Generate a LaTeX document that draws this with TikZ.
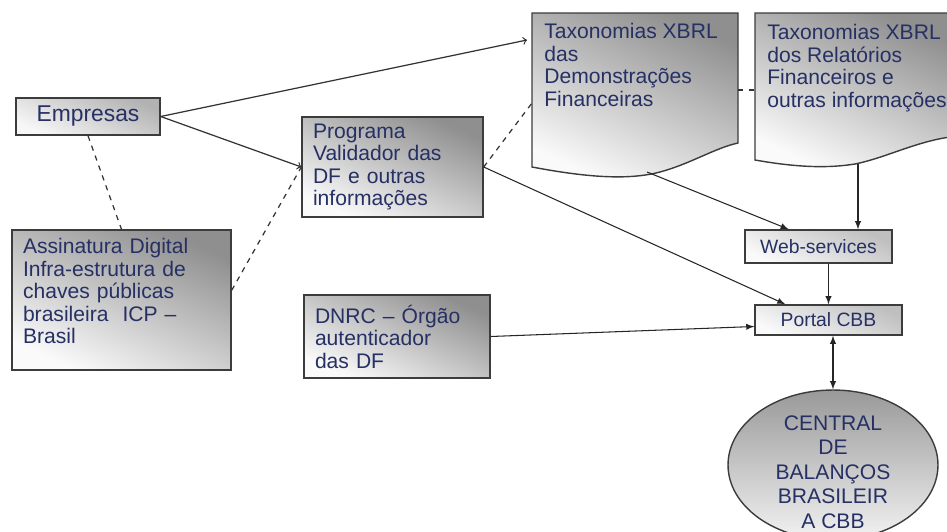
\documentclass[tikz,border=0pt]{standalone}
\usepackage{fontspec}
\setmainfont{Liberation Sans}
\usepackage{xcolor}
\usetikzlibrary{arrows}
\usetikzlibrary{shapes.geometric}

\definecolor{navy}{RGB}{38,48,100}
\definecolor{edgegray}{RGB}{60,60,60}

\tikzset{
	box/.style={draw=edgegray, line width=0.8pt, top color=gray!88, bottom color=gray!4, shading angle=-25, text=navy, font=\fontsize{12}{12.8}\selectfont, align=left, inner xsep=0.22cm, inner ysep=0pt},
	smallbox/.style={box, font=\fontsize{11}{13}\selectfont, align=center, minimum width=2.94cm, top color=gray!50, bottom color=gray!4, shading angle=-25},
	doctxt/.style={anchor=north west, inner sep=0pt, text=navy, font=\fontsize{12}{12.8}\selectfont, align=left},
	docshape/.style={draw=edgegray, line width=0.8pt, top color=gray!88, bottom color=gray!4, shading angle=-25},
	openarrow/.style={->, >=to, line width=0.7pt, color=black!80},
	fillarrow/.style={-latex, line width=0.6pt, color=black!85},
	dline/.style={dashed, line width=0.7pt, color=black!80}
}

\begin{document}
\begin{tikzpicture}[x=0.02cm, y=-0.02cm]
	\clip (0,0) rectangle (947,531);

	%documents (taxonomias), wavy bottom
	\draw[docshape] (532,13) -- (738,13) -- (738,143) .. controls (715,148) and (690,164) .. (660,172) .. controls (630,180) and (590,178) .. (532,167) -- cycle; % DF
	\draw[docshape] (755,13) -- (950,13) -- (950,137) .. controls (915,142) and (885,158) .. (855,164) .. controls (830,168) and (800,168) .. (755,160) -- cycle; % relatorios
	\node[doctxt] (tdf) at (544,23) {Taxonomias XBRL\\das\\Demonstrações\\Financeiras};
	\node[doctxt] (trf) at (767,24) {Taxonomias XBRL\\dos Relatórios\\Financeiros e\\outras informações};
	\coordinate (d1in) at (527,40);
	\coordinate (d1dash) at (532,103);
	\coordinate (d1out) at (647,172);
	\coordinate (d1r) at (738,90);
	\coordinate (d2l) at (755,90);
	\coordinate (d2out) at (858,164);
	%
	% boxes
	\node[box, align=center, font=\fontsize{13}{14}\selectfont, minimum width=2.88cm, minimum height=0.74cm, top color=gray!60, bottom color=gray!6, shading angle=-25] (emp) at (88,116.5) {Empresas};
	\node[box, text width=3.94cm, minimum height=2.8cm] (ass) at (121.5,300) {Assinatura Digital\\Infra-estrutura de\\chaves públicas\\brasileira\ \ ICP –\\Brasil\rule[-10pt]{0pt}{0pt}};
	\node[box, text width=3.18cm, minimum height=2cm] (prog) at (392.5,167) {Programa\\Validador das\\DF e outras\\informações};
	\node[box, text width=3.28cm, minimum height=1.66cm] (dnrc) at (397,336.5) {DNRC – Órgão\\autenticador\\das DF};
	\node[smallbox, minimum height=0.66cm] (web) at (818.5,246.5) {Web-services};
	\node[smallbox, minimum height=0.6cm] (portal) at (828.5,320) {Portal CBB};
	%
	% central
	\node[ellipse, draw=edgegray, line width=0.8pt, top color=gray!80, bottom color=gray!10, minimum width=4.2cm, minimum height=3cm, inner sep=0pt] (cbb) at (833,465) {};
	\node[text=navy, font=\fontsize{12}{14}\selectfont, align=center] (cbbtxt) at (833,472) {CENTRAL\\DE\\BALANÇOS\\BRASILEIR\\A CBB};
	%
	% Arrows
	\draw[openarrow] (emp.east) -- (d1in); % to taxonomias
	\draw[openarrow] (emp.east) -- (prog.west); % to validador
	\draw[dline] (emp.south) -- (ass.north);
	\draw[dline] (ass.5) -- (prog.west);
	\draw[dline] (prog.east) -- (d1dash);
	\draw[dline] (d1r) -- (d2l);
	\draw[fillarrow] (prog.east) -- (portal.160);
	\draw[fillarrow] (d1out) -- (web.150);
	\draw[fillarrow] (d2out) -- (d2out |- web.north);
	\draw[fillarrow] (portal.north |- web.south) -- (portal.north);
	\draw[fillarrow] (dnrc.east) -- (portal.185);
	\draw[latex-latex, line width=0.6pt, color=black!85] (cbb.north |- portal.south) -- (cbb.north); % portal <-> central
\end{tikzpicture}
\end{document}
